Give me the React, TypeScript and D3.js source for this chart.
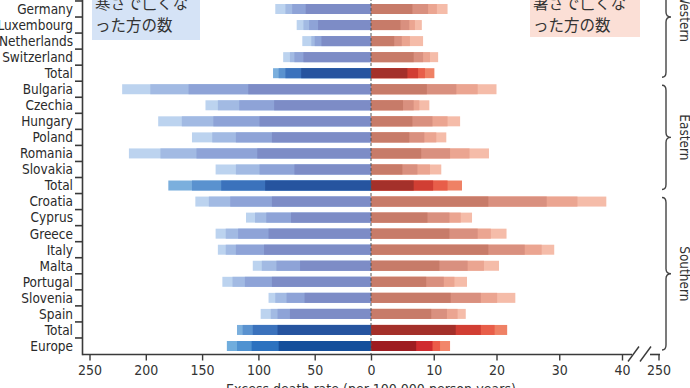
import { useEffect, useRef } from "react";
import * as d3 from "d3";

// rows as they appear, top to bottom (rows above Germany are cropped off)
const countries = [
  "Germany", "Luxembourg", "Netherlands", "Switzerland", "Total",
  "Bulgaria", "Czechia", "Hungary", "Poland", "Romania", "Slovakia", "Total",
  "Croatia", "Cyprus", "Greece", "Italy", "Malta", "Portugal", "Slovenia", "Spain", "Total",
  "Europe",
];
const rowKinds = [
  "country", "country", "country", "country", "total",
  "country", "country", "country", "country", "country", "country", "total",
  "country", "country", "country", "country", "country", "country", "country", "country", "total",
  "europe",
];

// cold-related excess death rate, four cumulative shaded levels (dark -> light)
const coldLevels = [
  [58, 70, 76, 85],
  [47, 55, 60, 66],
  [44, 50, 53, 61],
  [60, 68, 72, 78],
  [62, 76, 82, 87],
  [109, 162, 196, 221],
  [86, 117, 136, 147],
  [99, 140, 168, 189],
  [88, 120, 141, 159],
  [101, 155, 187, 215],
  [68, 99, 120, 138],
  [94, 133, 159, 180],
  [88, 125, 144, 156],
  [71, 93, 103, 111],
  [91, 118, 129, 138],
  [95, 120, 129, 136],
  [63, 84, 97, 105],
  [88, 112, 123, 132],
  [59, 75, 85, 91],
  [72, 83, 89, 98],
  [83, 105, 114, 119],
  [82, 106, 119, 128],
];

// heat-related excess death rate, four cumulative shaded levels (dark -> light)
const heatLevels = [
  [6.6, 9.1, 10.5, 12.2],
  [4.7, 6.1, 7.0, 8.1],
  [3.7, 4.9, 6.2, 8.3],
  [6.8, 8.3, 9.4, 10.7],
  [5.8, 7.5, 8.6, 10.1],
  [8.9, 13.6, 17.0, 20.0],
  [5.1, 6.8, 7.7, 9.3],
  [6.6, 9.8, 12.2, 14.2],
  [6.1, 8.5, 10.4, 12.0],
  [8.0, 12.6, 15.7, 18.8],
  [5.0, 7.4, 9.4, 11.2],
  [6.8, 9.9, 12.2, 14.5],
  [18.7, 28.0, 32.9, 37.5],
  [9.0, 12.5, 14.3, 16.1],
  [12.5, 17.0, 19.1, 21.6],
  [18.7, 24.5, 27.2, 29.2],
  [10.9, 15.4, 18.0, 20.4],
  [8.8, 11.6, 13.3, 15.3],
  [12.7, 17.5, 20.1, 23.0],
  [9.6, 12.1, 13.8, 15.1],
  [13.5, 17.5, 19.7, 21.7],
  [7.2, 9.8, 11.0, 12.6],
];

const coldTicks = [250, 200, 150, 100, 50, 0];
const heatTicks = [10, 20, 30, 40];
const brokenTickLabel = "250";

const regionNames = ["Western", "Eastern", "Southern"];
const regionFirstRow = [-3, 5, 12];
const regionLastRow = [4, 11, 21];

const coldNote = ["寒さで亡くな", "った方の数"];
const heatNote = ["暑さで亡くな", "った方の数"];
const axisTitle = "Excess death rate (per 100 000 person-years)";

const palette: Record<string, { cold: string[]; heat: string[] }> = {
  country: {
    cold: ["#7d8cc6", "#8ea3d7", "#a2bae3", "#bcd3ef"],
    heat: ["#c77b69", "#d9907f", "#eba591", "#f5bca9"],
  },
  total: {
    cold: ["#26549f", "#3b72bc", "#5a92cf", "#7bafdd"],
    heat: ["#a4302a", "#d13e33", "#e85e49", "#ef8165"],
  },
  europe: {
    cold: ["#154f9b", "#2c72bf", "#4f92d1", "#70addd"],
    heat: ["#9e1c21", "#d02b2f", "#ec5b49", "#f2866b"],
  },
};

const FONT = '"DejaVu Sans Condensed","Liberation Sans Narrow","DejaVu Sans",sans-serif';
const CJK = '"Noto Sans CJK JP","Noto Sans CJK SC",sans-serif';

export default function App() {
  const ref = useRef<SVGSVGElement | null>(null);

  useEffect(() => {
    const svg = d3.select(ref.current);
    svg.selectAll("*").remove();

    const zeroX = 371;
    const axisY = 354.5;
    const axisX = 82.5;
    const xCold = d3.scaleLinear().domain([0, 250]).range([zeroX, 89.5]);
    const xHeat = d3.scaleLinear().domain([0, 40]).range([zeroX, 622]);
    const y = d3.scaleLinear().domain([0, countries.length - 1]).range([9, 346]);
    const step = y(1) - y(0);
    const barH = 10;
    const ink = "#3a3a3a";

    // annotation boxes
    const notes = [
      { lines: coldNote, x: 92, w: 108, h: 40, fill: "#d5e3f6" },
      { lines: heatNote, x: 530, w: 110, h: 37, fill: "#fbdfd6" },
    ];
    notes.forEach((n) => {
      svg.append("rect").attr("x", n.x).attr("y", -12).attr("width", n.w).attr("height", n.h + 12).attr("fill", n.fill);
      n.lines.forEach((t, j) => {
        svg.append("text")
          .attr("x", n.x + 3).attr("y", 9 + j * 22)
          .attr("font-family", CJK).attr("font-size", 15.5).attr("fill", "#333")
          .text(t);
      });
    });

    // bars: widest (lightest) first, darkest on top
    const rows = svg.append("g")
      .selectAll("g")
      .data(countries.map((c, i) => ({ c, i })))
      .join("g");

    rows.each(function (d) {
      const g = d3.select(this);
      const pal = palette[rowKinds[d.i]];
      [3, 2, 1, 0].forEach((k) => {
        const cv = coldLevels[d.i][k];
        g.append("rect")
          .attr("x", xCold(cv)).attr("y", y(d.i) - barH / 2)
          .attr("width", zeroX - xCold(cv)).attr("height", barH)
          .attr("fill", pal.cold[k]);
        const hv = heatLevels[d.i][k];
        g.append("rect")
          .attr("x", zeroX).attr("y", y(d.i) - barH / 2)
          .attr("width", xHeat(hv) - zeroX).attr("height", barH)
          .attr("fill", pal.heat[k]);
      });
    });

    // zero line
    svg.append("line")
      .attr("x1", zeroX).attr("x2", zeroX).attr("y1", -2).attr("y2", axisY)
      .attr("stroke", "#555").attr("stroke-width", 1).attr("stroke-dasharray", "3,2");

    // y axis with ticks between rows
    svg.append("line")
      .attr("x1", axisX).attr("x2", axisX).attr("y1", -2).attr("y2", axisY + 0.8)
      .attr("stroke", ink).attr("stroke-width", 1.6);
    d3.range(-1, countries.length - 1).forEach((i) => {
      const yy = y(i) + step / 2;
      svg.append("line")
        .attr("x1", axisX - 7.5).attr("x2", axisX).attr("y1", yy).attr("y2", yy)
        .attr("stroke", ink).attr("stroke-width", 1.6);
    });
    countries.forEach((c, i) => {
      svg.append("text")
        .attr("x", 73).attr("y", y(i)).attr("dy", "0.36em")
        .attr("text-anchor", "end").attr("font-family", FONT).attr("font-size", 13.5)
        .attr("fill", "#2a2a2a").text(c);
    });

    // bottom axis line with break
    svg.append("line")
      .attr("x1", axisX).attr("x2", 632).attr("y1", axisY).attr("y2", axisY)
      .attr("stroke", ink).attr("stroke-width", 1.6);
    svg.append("line")
      .attr("x1", 650).attr("x2", 660).attr("y1", axisY).attr("y2", axisY)
      .attr("stroke", ink).attr("stroke-width", 1.6);
    [628, 640].forEach((bx) => {
      svg.append("line")
        .attr("x1", bx).attr("y1", axisY + 7).attr("x2", bx + 11).attr("y2", axisY - 8)
        .attr("stroke", ink).attr("stroke-width", 1.4);
    });

    const styleAxis = (g: d3.Selection<SVGGElement, unknown, null, undefined>) => {
      g.select(".domain").remove();
      g.selectAll(".tick line").attr("stroke", ink).attr("stroke-width", 1.4);
      g.selectAll(".tick text")
        .attr("font-family", FONT).attr("font-size", 14).attr("fill", "#333");
    };
    svg.append("g")
      .attr("transform", `translate(0,${axisY})`)
      .call(d3.axisBottom(xCold).tickValues(coldTicks).tickSize(6).tickPadding(5).tickFormat(d3.format("d")))
      .call(styleAxis as any);
    svg.append("g")
      .attr("transform", `translate(0,${axisY})`)
      .call(d3.axisBottom(xHeat).tickValues(heatTicks).tickSize(6).tickPadding(5).tickFormat(d3.format("d")))
      .call(styleAxis as any);

    const breakX = 659;
    svg.append("line")
      .attr("x1", breakX).attr("x2", breakX).attr("y1", axisY).attr("y2", axisY + 6)
      .attr("stroke", ink).attr("stroke-width", 1.4);
    svg.append("text")
      .attr("x", breakX).attr("y", axisY + 11).attr("dy", "0.71em")
      .attr("text-anchor", "middle").attr("font-family", FONT).attr("font-size", 14).attr("fill", "#333")
      .text(brokenTickLabel);

    svg.append("text")
      .attr("x", zeroX).attr("y", 394)
      .attr("text-anchor", "middle").attr("font-family", FONT).attr("font-size", 14).attr("fill", "#333")
      .text(axisTitle);

    // region braces
    const bx = 666;
    regionNames.forEach((name, r) => {
      const y0 = y(regionFirstRow[r]) - 4;
      const y1 = y(regionLastRow[r]) + 4;
      const ym = (y0 + y1) / 2;
      const p = d3.path();
      p.moveTo(bx - 4, y0);
      p.quadraticCurveTo(bx, y0, bx, y0 + 5);
      p.lineTo(bx, ym - 5);
      p.quadraticCurveTo(bx, ym, bx + 5, ym);
      p.quadraticCurveTo(bx, ym, bx, ym + 5);
      p.lineTo(bx, y1 - 5);
      p.quadraticCurveTo(bx, y1, bx - 4, y1);
      svg.append("path").attr("d", p.toString())
        .attr("fill", "none").attr("stroke", "#444").attr("stroke-width", 1.4);
      svg.append("text")
        .attr("transform", `translate(680,${ym}) rotate(90)`)
        .attr("text-anchor", "middle").attr("font-family", FONT).attr("font-size", 13.5).attr("fill", "#333")
        .text(name);
    });
  }, []);

  return (
    <svg
      ref={ref}
      width={690}
      height={388}
      style={{ position: "absolute", left: 0, top: 0, background: "#fff" }}
    />
  );
}
